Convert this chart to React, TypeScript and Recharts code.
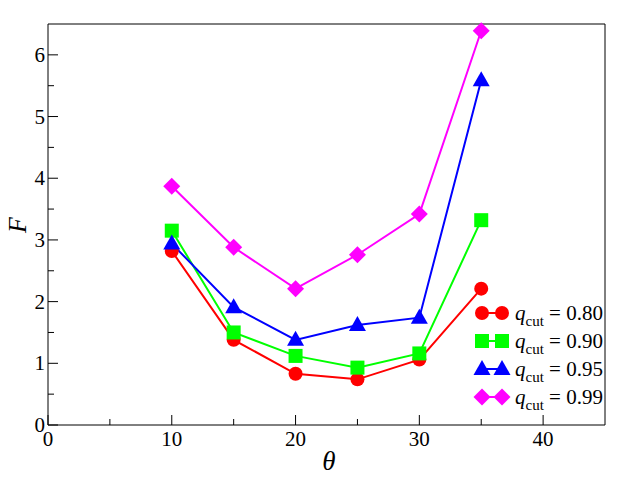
import React from 'react';
import { LineChart, Line, XAxis, YAxis, ReferenceLine, Legend } from 'recharts';

const theta = [10, 15, 20, 25, 30, 35];
const f080 = [2.82, 1.38, 0.83, 0.74, 1.06, 2.21];
const f090 = [3.15, 1.50, 1.12, 0.93, 1.16, 3.32];
const f095 = [2.94, 1.91, 1.38, 1.62, 1.74, 5.59];
const f099 = [3.87, 2.88, 2.21, 2.76, 3.42, 6.39];

const xTicks = [0, 5, 10, 15, 20, 25, 30, 35, 40];
const yTicks = [0, 0.5, 1, 1.5, 2, 2.5, 3, 3.5, 4, 4.5, 5, 5.5, 6];

const seriesNames = ['0.80', '0.90', '0.95', '0.99'];
const seriesKeys = ['a', 'b', 'c', 'd'];
const seriesColors = ['#ff0000', '#00ff00', '#0000ff', '#ff00ff'];
const seriesShapes = ['circle', 'square', 'triangle', 'diamond'];

const data = theta.map((t, i) => ({ theta: t, a: f080[i], b: f090[i], c: f095[i], d: f099[i] }));

const FONT = "'Liberation Serif', 'Times New Roman', Times, serif";
const TXT: React.CSSProperties = { fontFamily: FONT };

function Marker({ kind, cx, cy, color }: { kind: string; cx: number; cy: number; color: string }) {
  if (kind === 'circle') return <circle cx={cx} cy={cy} r={7} fill={color} />;
  if (kind === 'square') return <rect x={cx - 7} y={cy - 7} width={14} height={14} fill={color} />;
  if (kind === 'triangle')
    return <polygon points={`${cx},${cy - 9} ${cx - 8.5},${cy + 6} ${cx + 8.5},${cy + 6}`} fill={color} />;
  return <polygon points={`${cx},${cy - 8.5} ${cx + 8.5},${cy} ${cx},${cy + 8.5} ${cx - 8.5},${cy}`} fill={color} />;
}

const XTick = (props: any) => {
  const { x, y, payload } = props;
  const v = payload.value;
  const major = v % 10 === 0;
  return (
    <g>
      <line x1={x} y1={y} x2={x} y2={y - (major ? 10 : 6)} stroke="#000" strokeWidth={1} />
      {major && (
        <text x={x} y={y + 21} textAnchor="middle" style={TXT} fontSize={21} fill="#000">
          {v}
        </text>
      )}
    </g>
  );
};

const YTick = (props: any) => {
  const { x, y, payload } = props;
  const v = payload.value;
  const major = Number.isInteger(v);
  return (
    <g>
      <line x1={x} y1={y} x2={x + (major ? 10 : 6)} y2={y} stroke="#000" strokeWidth={1} />
      {major && (
        <text x={x - 3} y={y + 7} textAnchor="end" style={TXT} fontSize={21} fill="#000">
          {v}
        </text>
      )}
    </g>
  );
};

const LegendContent = () => (
  <svg width={140} height={118} style={{ display: 'block' }}>
    {seriesNames.map((n, i) => {
      const cy = 18 + i * 28;
      return (
        <g key={n}>
          <line x1={12} y1={cy} x2={32} y2={cy} stroke={seriesColors[i]} strokeWidth={2} />
          <Marker kind={seriesShapes[i]} cx={12} cy={cy} color={seriesColors[i]} />
          <Marker kind={seriesShapes[i]} cx={32} cy={cy} color={seriesColors[i]} />
          <text x={45} y={cy + 7} style={TXT} fontSize={21} fill="#000">
            <tspan fontStyle="italic">q</tspan>
            <tspan fontSize={15} dy={6}>cut</tspan>
            <tspan dy={-6}> = {n}</tspan>
          </text>
        </g>
      );
    })}
  </svg>
);

export default function App() {
  return (
    <div style={{ position: 'absolute', left: 0, top: 0, width: 634, height: 484, background: '#fff' }}>
      <LineChart width={634} height={484} data={data} margin={{ top: 24, right: 29, bottom: 0, left: 0 }}>
        <XAxis
          dataKey="theta"
          type="number"
          domain={[0, 45]}
          ticks={xTicks}
          interval={0}
          height={59}
          tickSize={0}
          tickMargin={0}
          tickLine={false}
          tick={<XTick />}
          stroke="#000"
          label={(p: any) => (
            <text x={329} y={470} textAnchor="middle" style={TXT} fontStyle="italic" fontSize={27} fill="#000">
              θ
            </text>
          )}
        />
        <YAxis
          type="number"
          domain={[0, 6.5]}
          ticks={yTicks}
          interval={0}
          width={48}
          tickSize={0}
          tickMargin={0}
          tickLine={false}
          tick={<YTick />}
          stroke="#000"
          label={(p: any) => (
            <text
              x={0}
              y={0}
              transform="translate(26,225) rotate(-90)"
              textAnchor="middle"
              style={TXT}
              fontStyle="italic"
              fontSize={26}
              fill="#000"
            >
              F
            </text>
          )}
        />
        <ReferenceLine y={6.5} stroke="#000" strokeWidth={1} />
        <ReferenceLine x={45} stroke="#000" strokeWidth={1} />
        {seriesKeys.map((k, i) => (
          <Line
            key={k}
            dataKey={k}
            stroke={seriesColors[i]}
            strokeWidth={2}
            isAnimationActive={false}
            dot={(p: any) => (
              <Marker key={`${k}-${p.index}`} kind={seriesShapes[i]} cx={p.cx} cy={p.cy} color={seriesColors[i]} />
            )}
            activeDot={false}
          />
        ))}
        <Legend
          layout="vertical"
          align="center"
          verticalAlign="middle"
          content={<LegendContent />}
          wrapperStyle={{ position: 'absolute', left: 470, top: 295, width: 140, height: 118 }}
        />
      </LineChart>
    </div>
  );
}
